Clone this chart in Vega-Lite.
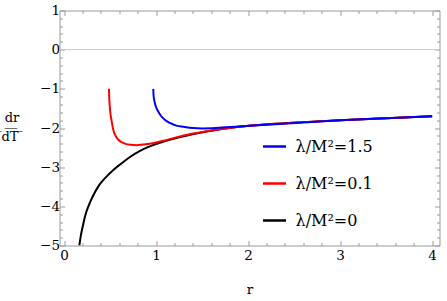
{
 "$schema": "https://vega.github.io/schema/vega-lite/v6.json",
 "width": 380,
 "height": 235,
 "autosize": "none",
 "padding": {"left": 59.5, "top": 10.5, "right": 7.5, "bottom": 55.5},
 "config": {
  "font": "DejaVu Serif",
  "view": {"stroke": null},
  "axis": {
   "grid": false,
   "domainColor": "#9a9a9a",
   "tickColor": "#9a9a9a",
   "labelColor": "#000000",
   "labelFont": "DejaVu Serif",
   "labelFontSize": 13.5,
   "titleFont": "DejaVu Serif",
   "titleFontSize": 13.5,
   "titleFontWeight": "normal",
   "titleColor": "#000000",
   "labelOverlap": false,
   "labelFlush": false
  }
 },
 "datasets": {
  "curves": [
   {"r": 0.166, "v": -5.0, "s": "0"},
   {"r": 0.181, "v": -4.76, "s": "0"},
   {"r": 0.203, "v": -4.51, "s": "0"},
   {"r": 0.228, "v": -4.25, "s": "0"},
   {"r": 0.264, "v": -4.0, "s": "0"},
   {"r": 0.311, "v": -3.75, "s": "0"},
   {"r": 0.372, "v": -3.49, "s": "0"},
   {"r": 0.445, "v": -3.28, "s": "0"},
   {"r": 0.535, "v": -3.07, "s": "0"},
   {"r": 0.626, "v": -2.9, "s": "0"},
   {"r": 0.716, "v": -2.74, "s": "0"},
   {"r": 0.82, "v": -2.59, "s": "0"},
   {"r": 0.93, "v": -2.47, "s": "0"},
   {"r": 1.1, "v": -2.33, "s": "0"},
   {"r": 1.3, "v": -2.21, "s": "0"},
   {"r": 1.55, "v": -2.09, "s": "0"},
   {"r": 1.9, "v": -1.97, "s": "0"},
   {"r": 2.25, "v": -1.9, "s": "0"},
   {"r": 2.6, "v": -1.85, "s": "0"},
   {"r": 3.0, "v": -1.8, "s": "0"},
   {"r": 3.5, "v": -1.75, "s": "0"},
   {"r": 4.0, "v": -1.7, "s": "0"},
   {"r": 0.488, "v": -1.0, "s": "0.1"},
   {"r": 0.49, "v": -1.2, "s": "0.1"},
   {"r": 0.495, "v": -1.4, "s": "0.1"},
   {"r": 0.5, "v": -1.55, "s": "0.1"},
   {"r": 0.515, "v": -1.8, "s": "0.1"},
   {"r": 0.535, "v": -2.05, "s": "0.1"},
   {"r": 0.56, "v": -2.2, "s": "0.1"},
   {"r": 0.59, "v": -2.3, "s": "0.1"},
   {"r": 0.63, "v": -2.37, "s": "0.1"},
   {"r": 0.66, "v": -2.4, "s": "0.1"},
   {"r": 0.72, "v": -2.43, "s": "0.1"},
   {"r": 0.79, "v": -2.44, "s": "0.1"},
   {"r": 0.86, "v": -2.42, "s": "0.1"},
   {"r": 0.93, "v": -2.4, "s": "0.1"},
   {"r": 1.11, "v": -2.31, "s": "0.1"},
   {"r": 1.3, "v": -2.19, "s": "0.1"},
   {"r": 1.55, "v": -2.085, "s": "0.1"},
   {"r": 1.9, "v": -1.97, "s": "0.1"},
   {"r": 2.25, "v": -1.9, "s": "0.1"},
   {"r": 2.6, "v": -1.85, "s": "0.1"},
   {"r": 3.0, "v": -1.8, "s": "0.1"},
   {"r": 3.5, "v": -1.75, "s": "0.1"},
   {"r": 4.0, "v": -1.7, "s": "0.1"},
   {"r": 0.969, "v": -1.0, "s": "1.5"},
   {"r": 0.972, "v": -1.15, "s": "1.5"},
   {"r": 0.978, "v": -1.27, "s": "1.5"},
   {"r": 0.987, "v": -1.37, "s": "1.5"},
   {"r": 1.0, "v": -1.47, "s": "1.5"},
   {"r": 1.023, "v": -1.58, "s": "1.5"},
   {"r": 1.05, "v": -1.68, "s": "1.5"},
   {"r": 1.095, "v": -1.79, "s": "1.5"},
   {"r": 1.15, "v": -1.87, "s": "1.5"},
   {"r": 1.22, "v": -1.94, "s": "1.5"},
   {"r": 1.3, "v": -1.97, "s": "1.5"},
   {"r": 1.4, "v": -2.0, "s": "1.5"},
   {"r": 1.5, "v": -2.01, "s": "1.5"},
   {"r": 1.65, "v": -2.0, "s": "1.5"},
   {"r": 1.9, "v": -1.96, "s": "1.5"},
   {"r": 2.25, "v": -1.91, "s": "1.5"},
   {"r": 2.6, "v": -1.86, "s": "1.5"},
   {"r": 3.0, "v": -1.805, "s": "1.5"},
   {"r": 3.5, "v": -1.75, "s": "1.5"},
   {"r": 4.0, "v": -1.7, "s": "1.5"}
  ],
  "zero": [{"v": 0}]
 },
 "layer": [
  {
   "data": {"name": "zero"},
   "mark": {"type": "rule", "color": "#c8c8c8", "strokeWidth": 1},
   "encoding": {
    "y": {"field": "v", "type": "quantitative", "scale": {"domain": [-5, 1], "nice": false, "zero": false}, "axis": null}
   }
  },
  {
   "data": {"name": "curves"},
   "mark": {"type": "line", "interpolate": "monotone", "strokeWidth": 2, "clip": true},
   "encoding": {
    "x": {
     "field": "r", "type": "quantitative",
     "scale": {"domain": [-0.05, 4.08], "nice": false, "zero": false},
     "axis": {
      "orient": "bottom",
      "values": [0, 0.2, 0.4, 0.6, 0.8, 1, 1.2, 1.4, 1.6, 1.8, 2, 2.2, 2.4, 2.6, 2.8, 3, 3.2, 3.4, 3.6, 3.8, 4],
      "tickSize": {"condition": {"test": "abs(datum.value - round(datum.value)) < 0.001", "value": -5}, "value": -3},
      "labelExpr": "abs(datum.value - round(datum.value)) < 0.001 ? format(datum.value, 'd') : ''",
      "labelPadding": 8,
      "title": "r",
      "titleX": 190,
      "titleY": 44,
      "titleBaseline": "middle"
     }
    },
    "y": {
     "field": "v", "type": "quantitative",
     "scale": {"domain": [-5, 1], "nice": false, "zero": false},
     "axis": {
      "orient": "left",
      "values": [-5, -4.8, -4.6, -4.4, -4.2, -4, -3.8, -3.6, -3.4, -3.2, -3, -2.8, -2.6, -2.4, -2.2, -2, -1.8, -1.6, -1.4, -1.2, -1, -0.8, -0.6, -0.4, -0.2, 0, 0.2, 0.4, 0.6, 0.8, 1],
      "tickSize": {"condition": {"test": "abs(datum.value - round(datum.value)) < 0.001", "value": -5}, "value": -3},
      "labelExpr": "abs(datum.value - round(datum.value)) < 0.001 ? format(datum.value, 'd') : ''",
      "labelPadding": 5,
      "title": ["dr", "\u00a0\u0305d\u0305T\u0305\u00a0\u0305"],
      "titleAngle": 0,
      "titleAlign": "center",
      "titleBaseline": "middle",
      "titleFontSize": 13,
      "titleLineHeight": 19,
      "titleX": -48,
      "titleY": 106.5
     }
    },
    "color": {
     "field": "s", "type": "nominal",
     "scale": {"domain": ["1.5", "0.1", "0"], "range": ["#0000ff", "#ff0000", "#000000"]},
     "legend": {
      "orient": "none",
      "legendX": 202,
      "legendY": 123,
      "title": null,
      "symbolType": "stroke",
      "symbolSize": 529,
      "symbolStrokeWidth": 2.5,
      "labelExpr": "'λ/M²=' + datum.label",
      "labelFont": "DejaVu Serif",
      "labelFontSize": 16,
      "labelColor": "#000000",
      "labelOffset": 8,
      "rowPadding": 16,
      "padding": 0
     }
    }
   }
  },
  {
   "data": {"name": "zero"},
   "mark": {"type": "point", "opacity": 0},
   "encoding": {
    "x": {
     "datum": 0, "type": "quantitative",
     "axis": {
      "orient": "top",
      "values": [0, 0.2, 0.4, 0.6, 0.8, 1, 1.2, 1.4, 1.6, 1.8, 2, 2.2, 2.4, 2.6, 2.8, 3, 3.2, 3.4, 3.6, 3.8, 4],
      "tickSize": {"condition": {"test": "abs(datum.value - round(datum.value)) < 0.001", "value": -5}, "value": -3},
      "labels": false,
      "title": null
     }
    },
    "y": {
     "field": "v", "type": "quantitative",
     "axis": {
      "orient": "right",
      "values": [-5, -4.8, -4.6, -4.4, -4.2, -4, -3.8, -3.6, -3.4, -3.2, -3, -2.8, -2.6, -2.4, -2.2, -2, -1.8, -1.6, -1.4, -1.2, -1, -0.8, -0.6, -0.4, -0.2, 0, 0.2, 0.4, 0.6, 0.8, 1],
      "tickSize": {"condition": {"test": "abs(datum.value - round(datum.value)) < 0.001", "value": -5}, "value": -3},
      "labels": false,
      "title": null
     }
    }
   }
  }
 ],
 "resolve": {"axis": {"x": "independent", "y": "independent"}}
}
